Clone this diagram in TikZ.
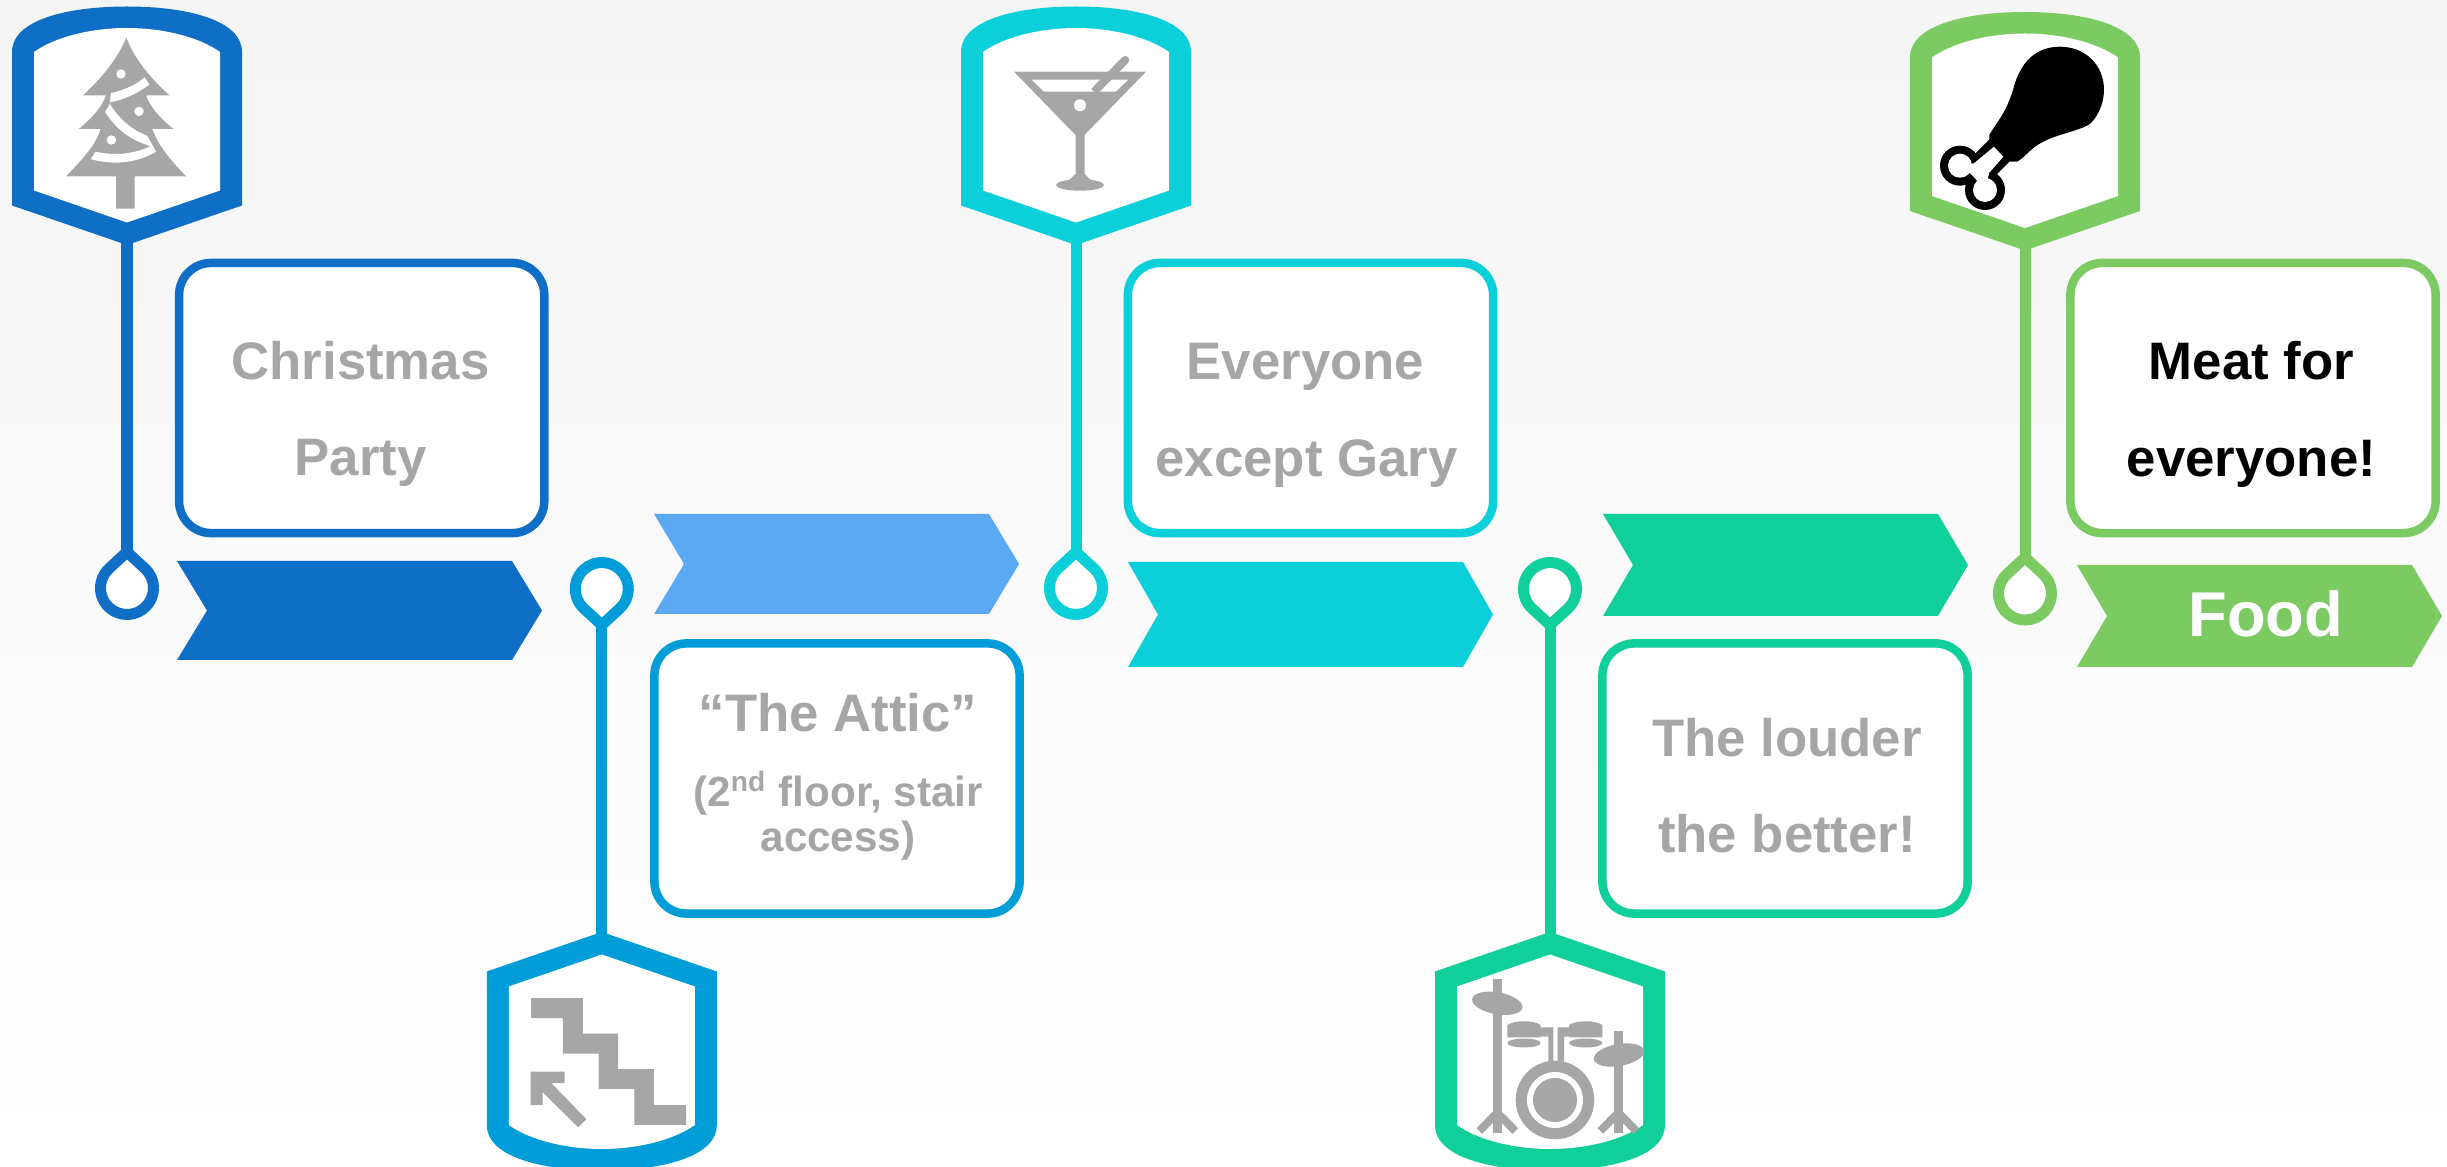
\documentclass[tikz,border=0pt]{standalone}
\usepackage{fontspec}
\setmainfont{Liberation Sans}
\definecolor{blueone}{HTML}{0F6FC6}
\definecolor{bluetwo}{HTML}{009DD9}
\definecolor{bluepale}{HTML}{5BA9F2}
\definecolor{cyanone}{HTML}{0BD0D9}
\definecolor{tealone}{HTML}{10CF9B}
\definecolor{greenone}{HTML}{7CCA62}
\definecolor{icongrey}{HTML}{A6A6A6}
\tikzset{
  databox/.style={draw=#1,fill=white,line width=0.085cm,rounded corners=0.32cm,
    minimum width=3.65cm,minimum height=2.7cm},
  bigtext/.style={anchor=base,inner sep=0pt,text=icongrey,font=\fontsize{15}{18}\selectfont\bfseries},
  smalltext/.style={bigtext,font=\fontsize{12}{14}\selectfont\bfseries},
  stem/.style={line width=0.11cm},
  grey/.style={fill=icongrey},
  gap/.style={fill=white}
}
\begin{document}
\begin{tikzpicture}[x=0.01cm,y=-0.01cm]
\useasboundingbox (0,0) rectangle (2447,1167);
\clip (0,0) rectangle (2447,1167);
\shade[top color=black!4,bottom color=white] (0,0) rectangle (2447,1167);

\foreach \cx/\dy/\flip/\col/\n in {127/0/1/blueone/a,601.8/1177/-1/bluetwo/b,1076/0/1/cyanone/c,1550/1177/-1/tealone/d,2025/5.5/1/greenone/e}{
\begin{scope}[shift={(\cx,\dy)},yscale=\flip]
\coordinate (flagtip\n) at (0,240);
\coordinate (droptop\n) at (0,552);
\draw[stem,\col] (flagtip\n) -- (droptop\n);
\fill[\col] (-115,52) .. controls (-115,20) and (-60,6.5) .. (0,6.5) .. controls (60,6.5) and (115,20) .. (115,52) -- (115,205.5) -- (0,245) -- (-115,205.5) -- cycle;
\fill[white] (-93,52) .. controls (-72,37) and (-36,28) .. (0,28) .. controls (36,28) and (72,37) .. (93,52) -- (93,190.5) -- (0,222.5) -- (-93,190.5) -- cycle;
\draw[stem,\col,fill=white,miter limit=10] (droptop\n) -- (18.14,568.68) arc[start angle=-46.8,end angle=226.8,radius=26.5] -- cycle;
\end{scope}
}

\foreach \x/\t/\b/\col in {177/561/660/blueone,654/514/614/bluepale,1128/562/667/cyanone,1603/514/616/tealone,2077/565/667/greenone}{
\fill[\col] (\x,\t) -- (\x+335,\t) -- (\x+365,{(\t+\b)/2}) -- (\x+335,\b) -- (\x,\b) -- (\x+30,{(\t+\b)/2}) -- cycle;
}

\fill[grey] (126.3,37.7) .. controls (134,58) and (150,78) .. (169.5,95.4) -- (146,95.4) .. controls (150,107) and (160,118) .. (173.4,129) -- (152.3,129) .. controls (158,145) and (170,160) .. (186.4,176.5) -- (134.7,176.5) -- (134.7,208.6) -- (116,208.6) -- (116,176.5) -- (65.8,176.5) .. controls (82,160) and (96,145) .. (100.6,129) -- (78.8,129) .. controls (92,118) and (102,107) .. (106,95.4) -- (83,95.4) .. controls (102,78) and (118,58) .. cycle;
\fill[gap] (111,93.2) .. controls (124,90) and (136,85) .. (144.7,77.2) -- (149.3,84.6) .. controls (138,93) and (124,100) .. (109.8,102.3) -- cycle;
\fill[gap] (109.8,104) .. controls (120,120) and (132,130) .. (147.3,135.7) -- (156.1,151.8) -- (148.5,145.3) .. controls (130,140) and (115,128) .. (105.2,111.9) -- cycle;
\fill[gap] (95.7,151.8) .. controls (115,156) and (134,154) .. (149.3,146.6) -- (156.1,151.8) .. controls (135,164) and (112,165) .. (90.7,159.1) -- cycle;
\fill[gap] (121,74) circle (4.7);
\fill[gap] (139,111.4) circle (4.7);
\fill[gap] (111.4,140) circle (4.7);

\fill[grey] (531.1,998) -- (582.9,998) -- (582.9,1033.6) -- (618.2,1033.6) -- (618.2,1069.2) -- (653.9,1069.2) -- (653.9,1105.2) -- (686.1,1105.2) -- (686.1,1124.8) -- (634.3,1124.8) -- (634.3,1089.2) -- (598.6,1089.2) -- (598.6,1053.6) -- (562.9,1053.6) -- (562.9,1018) -- (531.1,1018) -- cycle;
\fill[grey] (530.7,1071.6) -- (564.6,1071.6) -- (564.6,1083.2) -- (551.4,1083.2) -- (586.4,1119.2) -- (578.2,1127.2) -- (542.5,1092) -- (542.5,1105.2) -- (530.7,1105.2) -- cycle;

\fill[grey] (1014,71.7) -- (1146,71.7) -- (1084.5,135) -- (1084.5,175) -- (1075.5,175) -- (1075.5,135) -- cycle;
\fill[grey] (1080,185) ellipse [x radius=24,y radius=5.7];
\fill[grey] (1075.5,174) -- (1084.5,174) -- (1092,181) -- (1068,181) -- cycle;
\fill[gap] (1031.7,79.7) -- (1128.3,79.7) -- (1115.7,91.7) -- (1044,91.7) -- cycle;
\draw[icongrey,line width=0.08cm] (1094,91.7) -- (1125.3,60);
\fill[icongrey] (1125.3,60) circle (4);
\fill[gap] (1080,105.3) circle (6);

\fill[grey] (1493,979.3) rectangle (1501.6,1133);
\fill[grey] (1614,1031) rectangle (1622.6,1133);
\foreach \lx in {1497.3,1618.3}{
\draw[icongrey,line width=0.08cm] (\lx-18,1131) -- (\lx,1112.7) -- (\lx+18,1131);
}
\fill[grey,shift={(1497.3,1003.3)},rotate=-10] (0,0) ellipse [x radius=25.5,y radius=11];
\fill[grey,shift={(1619,1055)},rotate=10] (0,0) ellipse [x radius=25.5,y radius=11];
\fill[grey] (1507.3,1037.3) -- (1507.3,1025) .. controls (1515,1020) and (1533,1020) .. (1540.7,1025) -- (1540.7,1037.3) -- cycle;
\fill[grey] (1569,1037.3) -- (1569,1025) .. controls (1577,1020) and (1595,1020) .. (1602.3,1025) -- (1602.3,1037.3) -- cycle;
\fill[grey] (1524,1043) ellipse [x radius=16.7,y radius=4.5];
\fill[grey] (1585.7,1043) ellipse [x radius=16.7,y radius=4.5];
\fill[grey] (1540,1027.3) -- (1553.3,1027.3) -- (1553.3,1061.7) -- (1548.3,1061.7) -- (1548.3,1036.7) -- (1540,1036.7) -- cycle;
\fill[grey] (1570,1027.3) -- (1557.7,1027.3) -- (1557.7,1061.7) -- (1564,1061.7) -- (1564,1036.7) -- (1570,1036.7) -- cycle;
\fill[grey] (1555,1100) circle (39.3);
\fill[gap] (1555,1100) circle (28);
\fill[grey] (1555,1100) circle (22);

\fill[black] (1960,165.7) circle (20);
\fill[black] (1985,190) circle (20);
\draw[black,line width=0.3cm] (1972.5,177.5) -- (2001,149);
\fill[gap] (1960,165.7) circle (12);
\fill[gap] (1985,190) circle (12);
\fill[gap] (1960,165.7) -- (1972,175) -- (1985,190) -- (1989.3,172.7) -- (2003.3,156.7) -- (1994,146.7) -- (1974,163.3) -- cycle;
\fill[black] (1989.3,135) .. controls (1998,120) and (2005,115) .. (2013,90) .. controls (2018,70) and (2030,46.7) .. (2060,46.7) .. controls (2085,46.7) and (2104,65) .. (2104,90) .. controls (2104,105) and (2096,120) .. (2088.3,125) .. controls (2075,132) and (2058,134) .. (2043.3,141.7) .. controls (2030,148) and (2025,158) .. (2016.7,161.7) -- (2010,161.7) -- (1989.3,142) -- cycle;

\node[databox=blueone] (partybox) at (361.7,398) {};
\node[databox=bluetwo] (atticbox) at (837,778.5) {};
\node[databox=cyanone] (guestbox) at (1310.5,398) {};
\node[databox=tealone] (musicbox) at (1785,778.5) {};
\node[databox=greenone] (foodbox) at (2253,398) {};

\node[bigtext] (christmas) at (360.5,380) {Christmas};
\node[bigtext] (party) at (360.5,476) {Party};
\node[bigtext] (attic) at (838,732) {“The Attic”};
\node[smalltext] (floor) at (838,807) {(2\textsuperscript{nd} floor, stair};
\node[smalltext] (access) at (838,852) {access)};
\node[bigtext] (everyone) at (1305.5,380) {Everyone};
\node[bigtext] (gary) at (1306.5,477) {except Gary};
\node[bigtext] (louder) at (1787,757) {The louder};
\node[bigtext] (better) at (1787,853) {the better!};
\node[bigtext,text=black] (meat) at (2251.5,379.5) {Meat for};
\node[bigtext,text=black] (all) at (2251.5,476.5) {everyone!};
\node[bigtext,text=white,font=\fontsize{18}{20}\selectfont\bfseries] (food) at (2265.7,636.5) {Food};
\end{tikzpicture}
\end{document}
